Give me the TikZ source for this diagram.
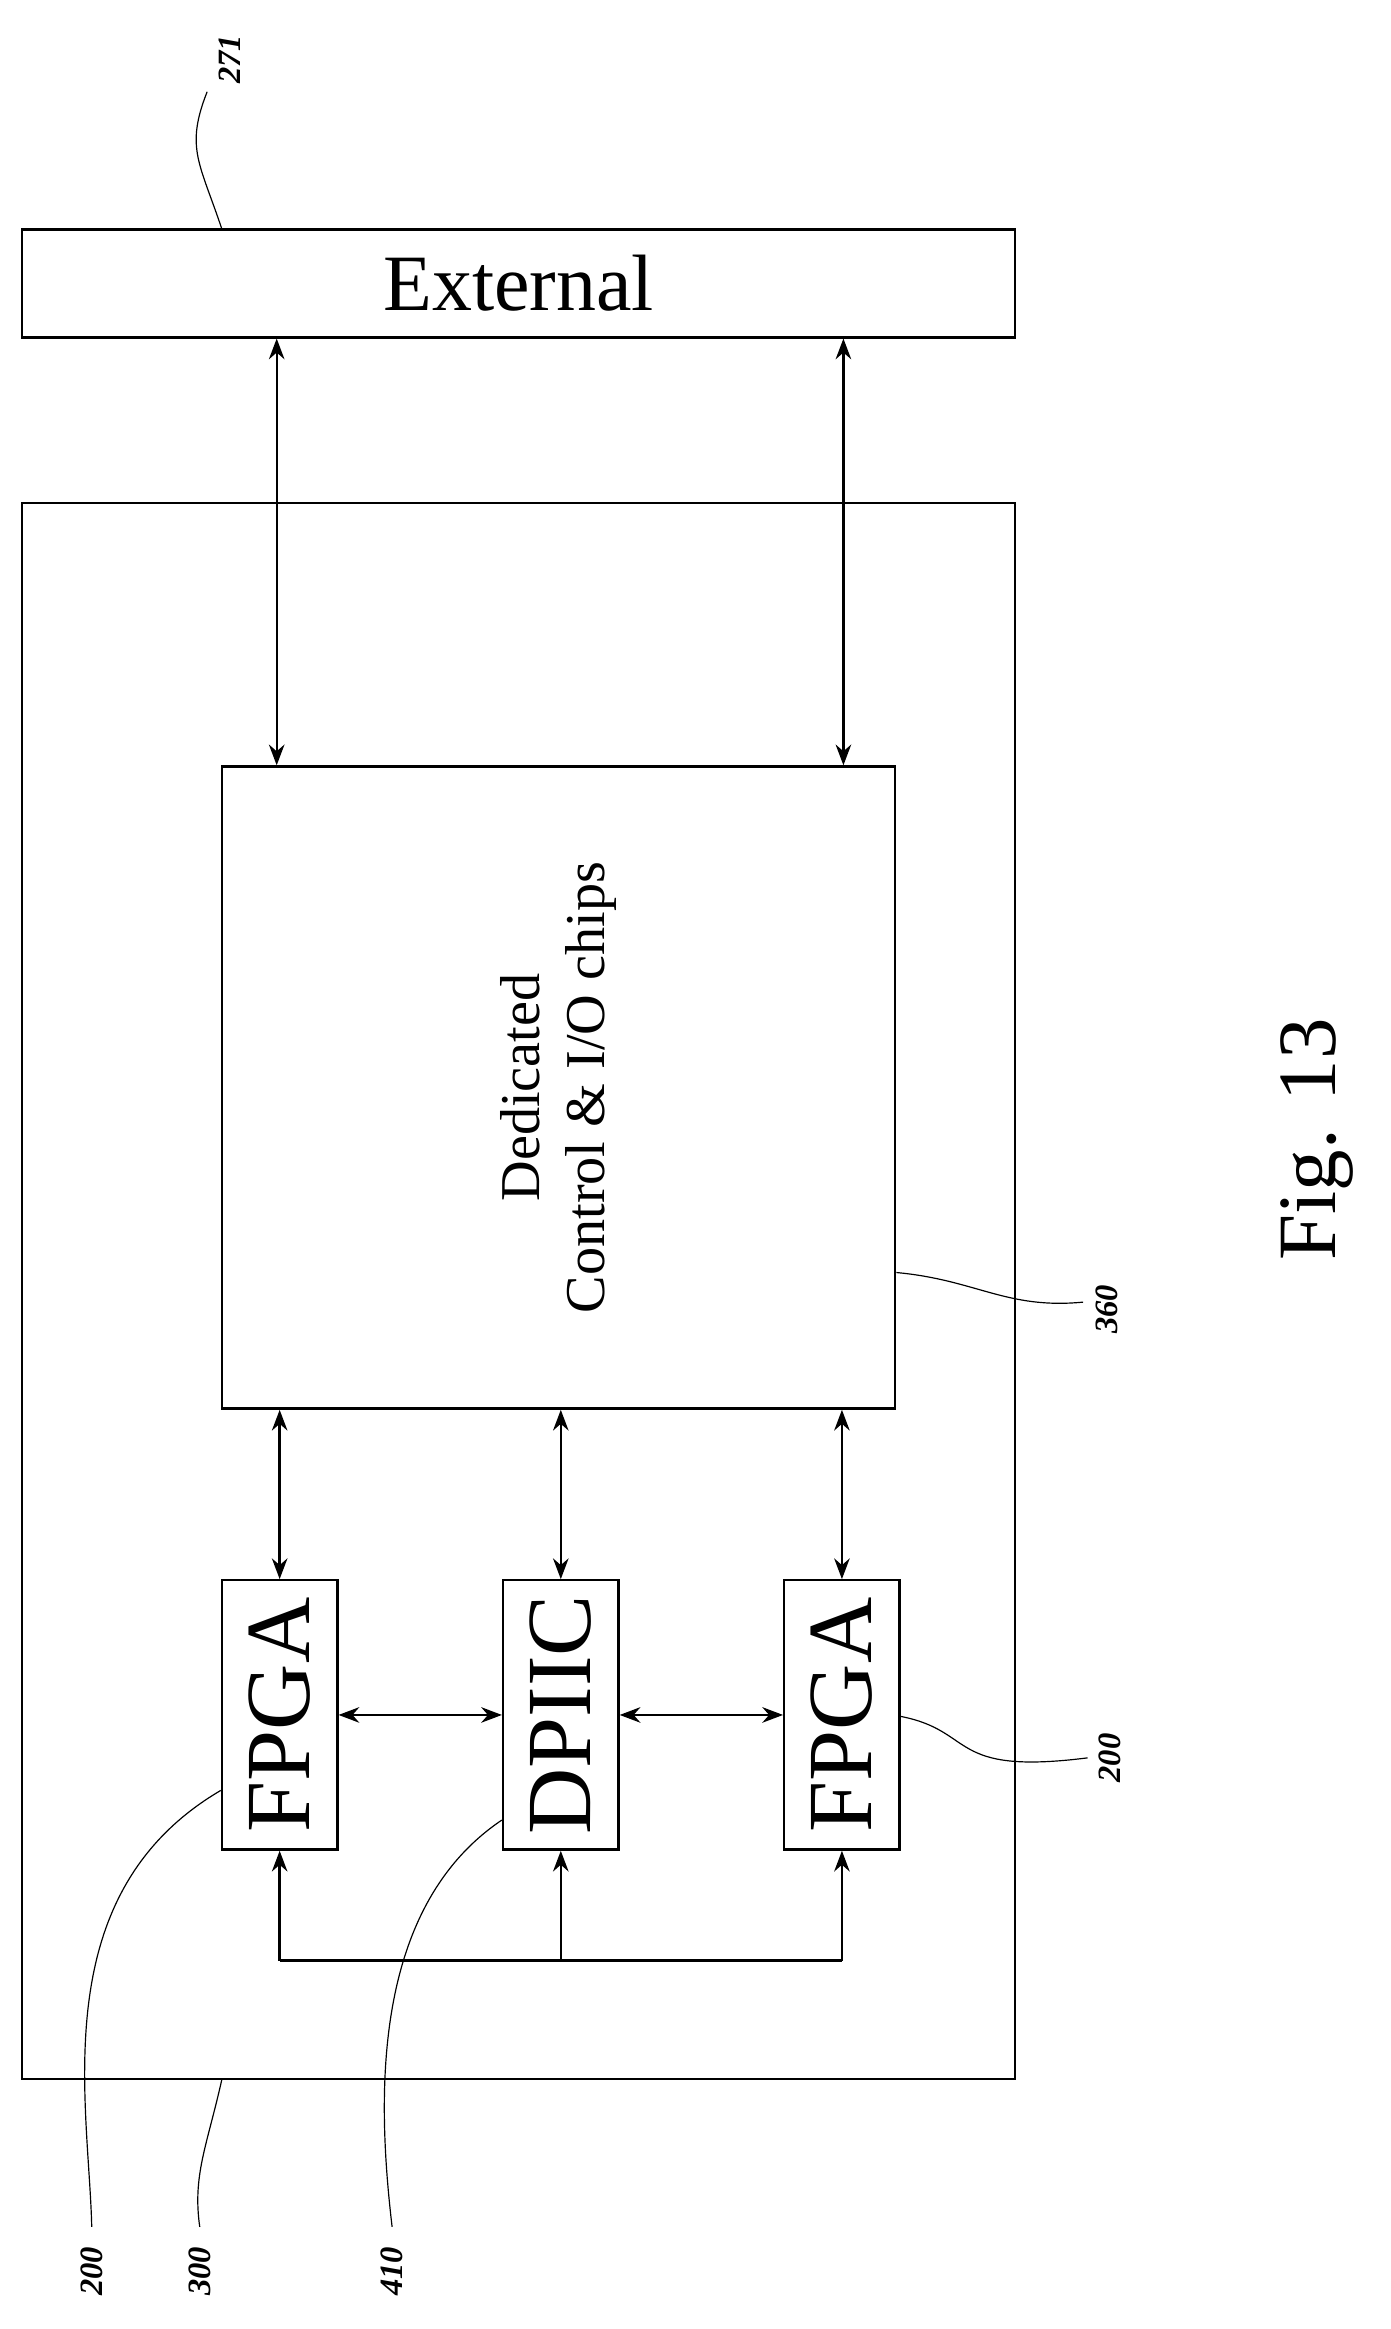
\documentclass[tikz,border=0pt]{standalone}
\usepackage{fontspec}
\setmainfont{Liberation Serif}
\usetikzlibrary{arrows.meta}
\tikzset{
  blk/.style={draw, thick, inner sep=0pt},
  link/.style={thick, {Stealth[length=7pt]}-{Stealth[length=7pt]}},
  up/.style={thick, -{Stealth[length=7pt]}},
  lead/.style={thin},
  chip/.style={rotate=90, font=\fontsize{31}{34}\selectfont},
  num/.style={font=\bfseries\itshape\fontsize{11}{13}\selectfont, rotate=90}
}
\begin{document}
\begin{tikzpicture}[x=0.5pt, y=-0.5pt]
\useasboundingbox (0,0) rectangle (940,1574);
% boxes
\node[blk, minimum width=335.5pt, minimum height=36.5pt, font=\fontsize{27}{30}\selectfont] (ext) at (350.5,191.5) {External};
\node[blk, minimum width=335.5pt, minimum height=532.5pt] (brd) at (350.5,872.5) {};
\node[blk, minimum width=227.5pt, minimum height=217pt] (ctl) at (377.5,735) {};
\node[rotate=90, align=center, font=\fontsize{19}{22}\selectfont] (ctltxt) at (377.5,735) {Dedicated\\Control \& I/O chips};
\node[blk, minimum width=39pt, minimum height=91pt] (fa) at (189,1159) {};
\node[blk, minimum width=39pt, minimum height=91pt] (dp) at (379,1159) {};
\node[blk, minimum width=39pt, minimum height=91pt] (fb) at (569,1159) {};
\node[chip] at (fa) {FPGA};
\node[chip] at (dp) {DPIIC};
\node[chip] at (fb) {FPGA};
% connectors
\draw[link] (ext.south -| 187,0) -- (ctl.north -| 187,0);
\draw[link] (ext.south -| 570,0) -- (ctl.north -| 570,0);
\draw[link] (ctl.south -| fa) -- (fa.north);
\draw[link] (ctl.south -| dp) -- (dp.north);
\draw[link] (ctl.south -| fb) -- (fb.north);
\draw[link] (fa.east) -- (dp.west);
\draw[link] (dp.east) -- (fb.west);
\coordinate (bl) at (189,1325);
\coordinate (bm) at (379,1325);
\coordinate (br) at (569,1325);
\draw[thick] (bl) -- (br);
\draw[up] (bl) -- (fa.south);
\draw[up] (bm) -- (dp.south);
\draw[up] (br) -- (fb.south);
% reference numerals
\node[num] (n271) at (155,40) {271};
\draw[lead] (150,155) .. controls (135,110) and (125,100) .. (140,62);
\node[num] (n360) at (748,885) {360};
\draw[lead] (ctl.east |- 0,860) .. controls (660,865) and (680,885) .. (732,880);
\node[num] (n200b) at (750,1188) {200};
\draw[lead] (fb.east |- 0,1160) .. controls (660,1170) and (640,1200) .. (735,1188);
\node[num] (n200a) at (62,1535) {200};
\draw[lead] (fa.west |- 0,1210) .. controls (30,1280) and (60,1420) .. (62,1505);
\node[num] (n300) at (135,1535) {300};
\draw[lead] (150,1405) .. controls (140,1450) and (130,1470) .. (135,1505);
\node[num] (n410) at (265,1535) {410};
\draw[lead] (dp.west |- 0,1230) .. controls (250,1290) and (255,1420) .. (265,1505);
\node[rotate=90, font=\fontsize{28}{32}\selectfont] (fig) at (890,770) {Fig. 13};
\end{tikzpicture}
\end{document}
